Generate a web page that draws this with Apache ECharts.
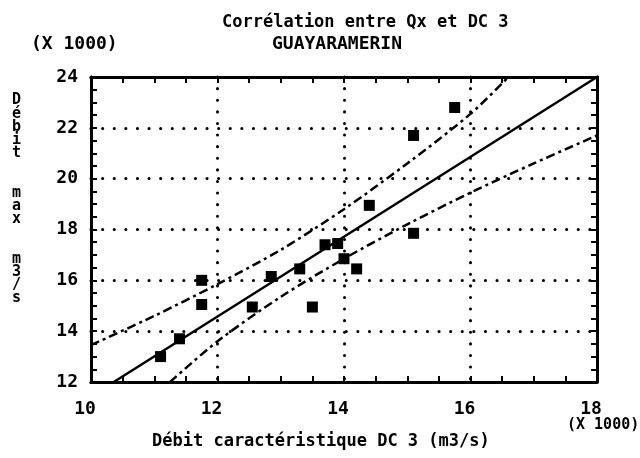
<!DOCTYPE html>
<html>
<head>
<meta charset="utf-8">
<script src="https://cdn.jsdelivr.net/npm/echarts@6/dist/echarts.min.js"></script>
<style>
  html, body { margin: 0; padding: 0; background: #fff; }
  #chart { width: 640px; height: 458px; }
</style>
</head>
<body>
<div id="chart"></div>
<script>
// Débit caractéristique DC 3 (x1000 m3/s) vs Débit max (x1000 m3/s)
const obsDC3 = [11.1, 11.4, 11.75, 11.75, 12.55, 12.85, 13.3, 13.5, 13.7, 13.9, 14.0, 14.2, 14.4, 15.1, 15.1, 15.75];
const obsQx  = [13.0, 13.7, 16.0, 15.05, 14.95, 16.15, 16.45, 14.95, 17.4, 17.45, 16.85, 16.45, 18.95, 21.7, 17.85, 22.8];

// droite de régression
const regLine = [[10.36, 12], [18, 24]];
// bornes de confiance
const upperBand = [[10, 13.45], [11, 14.6], [12, 15.85], [13, 17.2], [14, 18.8], [15, 20.6], [16, 22.55], [16.6, 24]];
const lowerBand = [[11.25, 12], [12, 13.6], [13, 15.35], [14, 16.85], [15, 18.2], [16, 19.45], [17, 20.6], [18, 21.7]];

const xTicks = [10, 12, 14, 16, 18];
const yTicks = [12, 14, 16, 18, 20, 22, 24];
const yName = ['D', 'é', 'b', 'i', 't', '', '', 'm', 'a', 'x', '', '', 'm', '3', '/', 's'];

const FONT = 'DejaVu Sans Mono';
const chart = echarts.init(document.getElementById('chart'));

const baseAxis = (min, max) => ({
  type: 'value',
  min: min,
  max: max,
  interval: 2,
  axisLine: { show: true, onZero: false, lineStyle: { color: '#000', width: 3 } },
  axisTick: { show: true, inside: true, length: 6, lineStyle: { color: '#000', width: 2 } },
  minorTick: { show: true, splitNumber: 4, length: 6, lineStyle: { color: '#000', width: 2 } },
  splitLine: { show: false },
  axisLabel: { show: false }
});

// pointillés de la grille
const dotted = { show: true, lineStyle: { color: '#000', width: 3, type: [0.1, 11.5], cap: 'round' } };

const xMain = Object.assign(baseAxis(xTicks[0], xTicks[xTicks.length - 1]), {
  position: 'bottom',
  splitLine: dotted,
  axisLabel: {
    show: true, color: '#000', fontFamily: FONT, fontWeight: 'bold', fontSize: 18,
    margin: 18, padding: [0, 12, 0, 0]
  }
});
const yMain = Object.assign(baseAxis(yTicks[0], yTicks[yTicks.length - 1]), {
  position: 'left',
  splitLine: dotted,
  axisLabel: {
    show: true, color: '#000', fontFamily: FONT, fontWeight: 'bold', fontSize: 18, margin: 13
  }
});

const dashDot = { color: '#000', width: 2.5, type: [9, 4, 3, 4] };

const option = {
  animation: false,
  backgroundColor: '#fff',
  grid: { left: 91, right: 43, top: 77, bottom: 76 },
  xAxis: [xMain, Object.assign(baseAxis(xTicks[0], xTicks[xTicks.length - 1]), { position: 'top' })],
  yAxis: [yMain, Object.assign(baseAxis(yTicks[0], yTicks[yTicks.length - 1]), { position: 'right' })],
  graphic: [
    { type: 'text', left: 222, top: 14,
      style: { text: 'Corrélation entre Qx et DC 3', fontFamily: FONT, fontWeight: 'bold', fontSize: 17, fill: '#000' } },
    { type: 'text', left: 272, top: 35,
      style: { text: 'GUAYARAMERIN', fontFamily: FONT, fontWeight: 'bold', fontSize: 18, fill: '#000' } },
    { type: 'text', left: 31, top: 35,
      style: { text: '(X 1000)', fontFamily: FONT, fontWeight: 'bold', fontSize: 18, fill: '#000' } },
    { type: 'text', left: 567, top: 418,
      style: { text: '(X 1000)', fontFamily: FONT, fontWeight: 'bold', fontSize: 15, fill: '#000' } },
    { type: 'text', left: 152, top: 433,
      style: { text: 'Débit caractéristique DC 3 (m3/s)', fontFamily: FONT, fontWeight: 'bold', fontSize: 17, fill: '#000' } },
    { type: 'text', left: 12, top: 93,
      style: {
        text: yName.join('\n'),
        fontFamily: FONT, fontWeight: 'bold', fontSize: 15, lineHeight: 13.2, fill: '#000'
      } }
  ],
  series: [
    {
      type: 'line', data: regLine, symbol: 'none', silent: true,
      lineStyle: { color: '#000', width: 2.5 }
    },
    {
      type: 'line', data: upperBand, symbol: 'none', smooth: 0.3, silent: true,
      lineStyle: dashDot
    },
    {
      type: 'line', data: lowerBand, symbol: 'none', smooth: 0.3, silent: true,
      lineStyle: dashDot
    },
    {
      type: 'scatter',
      data: obsDC3.map((x, i) => [x, obsQx[i]]),
      symbol: 'rect', symbolSize: 11,
      itemStyle: { color: '#000', opacity: 1 }
    }
  ]
};

chart.setOption(option);
</script>
</body>
</html>
